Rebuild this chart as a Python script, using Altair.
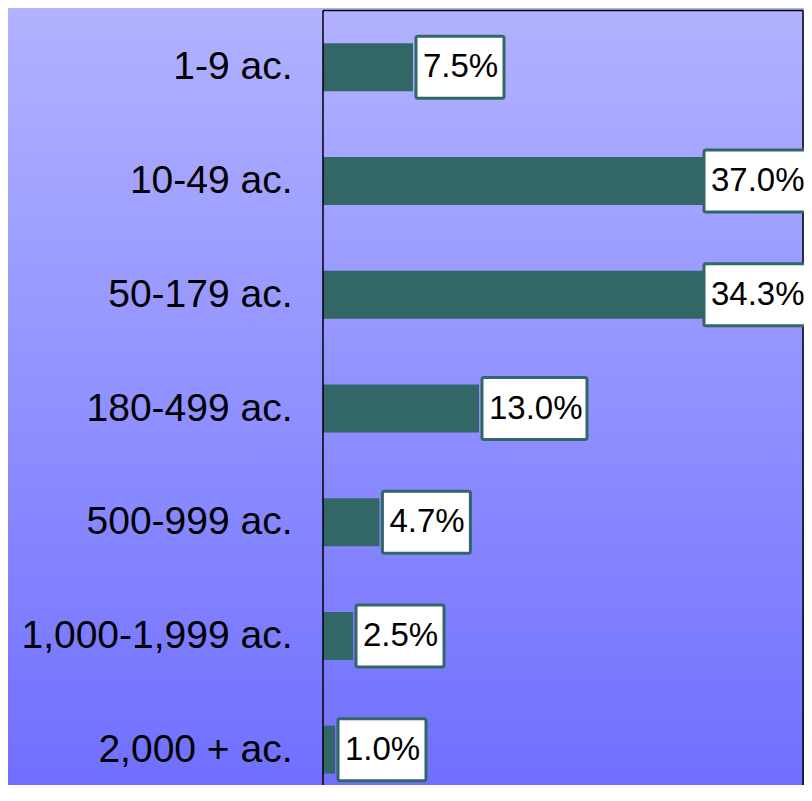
import altair as alt
import pandas as pd

# ---- data ----
categories = ["1-9 ac.", "10-49 ac.", "50-179 ac.", "180-499 ac.",
              "500-999 ac.", "1,000-1,999 ac.", "2,000 + ac."]
shares = [7.5, 37.0, 34.3, 13.0, 4.7, 2.5, 1.0]
labels = ["7.5%", "37.0%", "34.3%", "13.0%", "4.7%", "2.5%", "1.0%"]

# ---- layout / style ----
W, H = 480, 774
PAD_L, PAD_T, PAD_R = 315, 2.5, 1
X_MAX = 40
LABEL_CAP = 31.5          # labels of long bars are pulled back inside the view
BAR = "#336666"
FONT = "Liberation Sans"

df = pd.DataFrame({"cat": categories, "share": shares, "label": labels})
df["lab_x"] = df["share"].clip(upper=LABEL_CAP)
df["nchar"] = df["label"].str.len()

one = pd.DataFrame({"k": [0]})

x_scale = alt.Scale(domain=[0, X_MAX])
y_scale = alt.Scale(domain=categories, range=[0, 796],
                    paddingInner=0.578, paddingOuter=0.289)
y_axis = alt.Axis(title=None, ticks=False, tickSize=0, domain=False,
                  labelFont=FONT, labelFontSize=39, labelColor="black",
                  labelPadding=31, labelLimit=400, zindex=1)
y_enc = alt.Y("cat:N", scale=y_scale, sort=categories, axis=y_axis)

grad = alt.LinearGradient(
    gradient="linear",
    stops=[alt.GradientStop(color="#B2B2FF", offset=0),
           alt.GradientStop(color="#6F6FFF", offset=1)],
    x1=0, x2=0, y1=0, y2=1)

bg = alt.Chart(one).mark_rect(color=grad).encode(
    x=alt.value(-PAD_L), x2=alt.value(W + PAD_R),
    y=alt.value(-PAD_T), y2=alt.value(H + 10))

bars = alt.Chart(df).mark_bar(color=BAR, orient="horizontal").encode(
    x=alt.X("share:Q", scale=x_scale, axis=None),
    y=y_enc)

frame_left = alt.Chart(one).mark_rule(color="black", strokeWidth=1.5).encode(
    x=alt.value(0), y=alt.value(0), y2=alt.value(H + 40))
frame_top = alt.Chart(one).mark_rule(color="black", strokeWidth=1.5).encode(
    x=alt.value(0), x2=alt.value(W), y=alt.value(0))
frame_right = alt.Chart(one).mark_rule(color="black", strokeWidth=1.5).encode(
    x=alt.value(W), y=alt.value(0), y2=alt.value(H + 40))

box_layers = []
for n, end in ((4, 91), (5, 108)):
    box_layers.append(
        alt.Chart(df).transform_filter(f"datum.nchar == {n}").mark_bar(
            fill="white", stroke=BAR, strokeWidth=3, cornerRadius=2,
            size=62, orient="horizontal", xOffset=3, x2Offset=end
        ).encode(
            x=alt.X("lab_x:Q", scale=x_scale, axis=None),
            x2="lab_x:Q",
            y=y_enc)
    )

text = alt.Chart(df).mark_text(
    align="left", baseline="middle", dx=10, fontSize=33, font=FONT,
    color="black"
).encode(
    x=alt.X("lab_x:Q", scale=x_scale, axis=None),
    y=y_enc,
    text="label:N")

chart = alt.layer(
    bg, bars, frame_left, frame_top, frame_right, *box_layers, text
).properties(
    width=W, height=H,
    padding={"left": PAD_L, "top": PAD_T, "right": PAD_R, "bottom": 0},
    autosize=alt.AutoSizeParams(type="none"),
    background="#6F6FFF",
).configure_view(stroke="transparent")

chart.save("out.html", embed_options={"renderer": "svg", "actions": False})
